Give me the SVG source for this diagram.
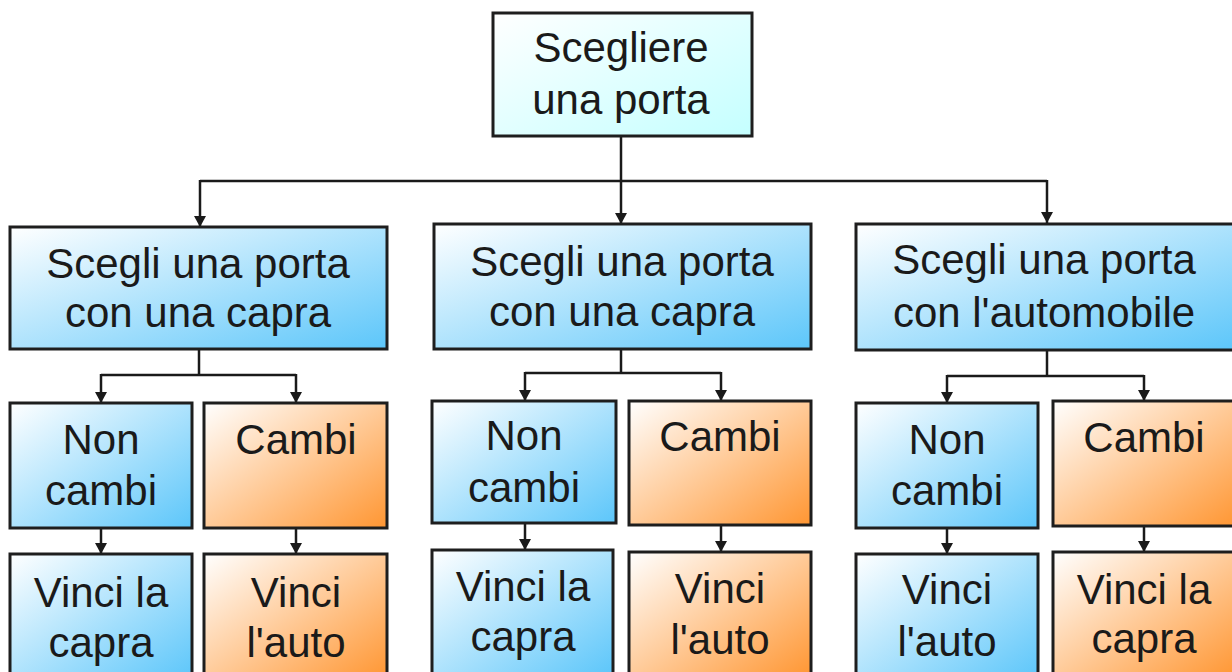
<svg xmlns="http://www.w3.org/2000/svg" width="1232" height="672" viewBox="0 0 1232 672">
<defs>
<linearGradient id="gTop" x1="0" y1="0" x2="1" y2="1"><stop offset="0" stop-color="#ffffff"/><stop offset="1" stop-color="#c4ffff"/></linearGradient>
<linearGradient id="gBlue" x1="0" y1="0" x2="1" y2="1"><stop offset="0" stop-color="#ffffff"/><stop offset="1" stop-color="#5cc6fa"/></linearGradient>
<linearGradient id="gOrange" x1="0" y1="0" x2="1" y2="1"><stop offset="0" stop-color="#ffffff"/><stop offset="1" stop-color="#ff9632"/></linearGradient>
<marker id="arr" markerUnits="userSpaceOnUse" markerWidth="12" markerHeight="12" viewBox="0 0 12 12" refX="11" refY="6" orient="auto">
<path d="M0,0 L11,6 L0,12 Z" fill="#1a1a1a"/>
</marker>
<style>
rect.box{stroke:#1e1e1e;stroke-width:3}
.top{fill:url(#gTop)}
.blue{fill:url(#gBlue)}
.orange{fill:url(#gOrange)}
text{font-family:"Liberation Sans",Arial,sans-serif;font-size:42px;fill:#1a1a1a;text-anchor:middle}
.c line,.c polyline{fill:none;stroke:#1a1a1a;stroke-width:2.5}
</style>
</defs>
<rect width="1232" height="672" fill="#ffffff"/>
<g class="c" id="connectors">
<line x1="621" y1="136" x2="621" y2="181"/>
<polyline points="200,181 1047,181"/>
<line x1="621" y1="181" x2="621" y2="224" marker-end="url(#arr)"/>
<line x1="200" y1="180" x2="200" y2="227" marker-end="url(#arr)"/>
<line x1="1047" y1="180" x2="1047" y2="223" marker-end="url(#arr)"/>
<line x1="199" y1="349" x2="199" y2="375"/>
<polyline points="101,375 296,375"/>
<line x1="101" y1="374" x2="101" y2="403" marker-end="url(#arr)"/>
<line x1="296" y1="374" x2="296" y2="403" marker-end="url(#arr)"/>
<line x1="621" y1="349" x2="621" y2="373"/>
<polyline points="525,373 721,373"/>
<line x1="525" y1="372" x2="525" y2="401" marker-end="url(#arr)"/>
<line x1="721" y1="372" x2="721" y2="401" marker-end="url(#arr)"/>
<line x1="1047" y1="350" x2="1047" y2="376"/>
<polyline points="947,376 1144,376"/>
<line x1="947" y1="375" x2="947" y2="403" marker-end="url(#arr)"/>
<line x1="1144" y1="375" x2="1144" y2="401" marker-end="url(#arr)"/>
<line x1="101" y1="528" x2="101" y2="554" marker-end="url(#arr)"/>
<line x1="296" y1="528" x2="296" y2="554" marker-end="url(#arr)"/>
<line x1="525" y1="523" x2="525" y2="550" marker-end="url(#arr)"/>
<line x1="721" y1="525" x2="721" y2="552" marker-end="url(#arr)"/>
<line x1="947" y1="528" x2="947" y2="554" marker-end="url(#arr)"/>
<line x1="1144" y1="526" x2="1144" y2="552" marker-end="url(#arr)"/>
</g>
<g id="n-start"><rect class="box top" x="493" y="13" width="259" height="123"/><text x="621" y="62">Scegliere</text><text x="621" y="114">una porta</text></g>
<g id="n-goat1"><rect class="box blue" x="10" y="227" width="377" height="122"/><text x="198" y="278">Scegli una porta</text><text x="198" y="327">con una capra</text></g>
<g id="n-goat2"><rect class="box blue" x="434" y="224" width="377" height="125"/><text x="622" y="276">Scegli una porta</text><text x="622" y="326">con una capra</text></g>
<g id="n-car"><rect class="box blue" x="856" y="224" width="380" height="126"/><text x="1044" y="274">Scegli una porta</text><text x="1044" y="327">con l'automobile</text></g>
<g id="n-stay1"><rect class="box blue" x="10" y="403" width="182" height="125"/><text x="101" y="454">Non</text><text x="101" y="505">cambi</text></g>
<g id="n-switch1"><rect class="box orange" x="204" y="403" width="183" height="125"/><text x="296" y="454">Cambi</text></g>
<g id="n-stay2"><rect class="box blue" x="432" y="401" width="184" height="122"/><text x="524" y="450">Non</text><text x="524" y="502">cambi</text></g>
<g id="n-switch2"><rect class="box orange" x="629" y="401" width="182" height="124"/><text x="720" y="451">Cambi</text></g>
<g id="n-stay3"><rect class="box blue" x="856" y="403" width="182" height="125"/><text x="947" y="454">Non</text><text x="947" y="505">cambi</text></g>
<g id="n-switch3"><rect class="box orange" x="1053" y="401" width="184" height="125"/><text x="1144" y="452">Cambi</text></g>
<g id="n-r1"><rect class="box blue" x="10" y="554" width="182" height="125"/><text x="101" y="607">Vinci la</text><text x="101" y="657">capra</text></g>
<g id="n-r2"><rect class="box orange" x="204" y="554" width="183" height="125"/><text x="296" y="607">Vinci</text><text x="296" y="657">l'auto</text></g>
<g id="n-r3"><rect class="box blue" x="432" y="550" width="181" height="125"/><text x="523" y="601">Vinci la</text><text x="523" y="651">capra</text></g>
<g id="n-r4"><rect class="box orange" x="629" y="552" width="182" height="125"/><text x="720" y="603">Vinci</text><text x="720" y="654">l'auto</text></g>
<g id="n-r5"><rect class="box blue" x="856" y="554" width="182" height="125"/><text x="947" y="604">Vinci</text><text x="947" y="656">l'auto</text></g>
<g id="n-r6"><rect class="box orange" x="1053" y="552" width="184" height="125"/><text x="1144" y="604">Vinci la</text><text x="1144" y="653">capra</text></g>
</svg>
